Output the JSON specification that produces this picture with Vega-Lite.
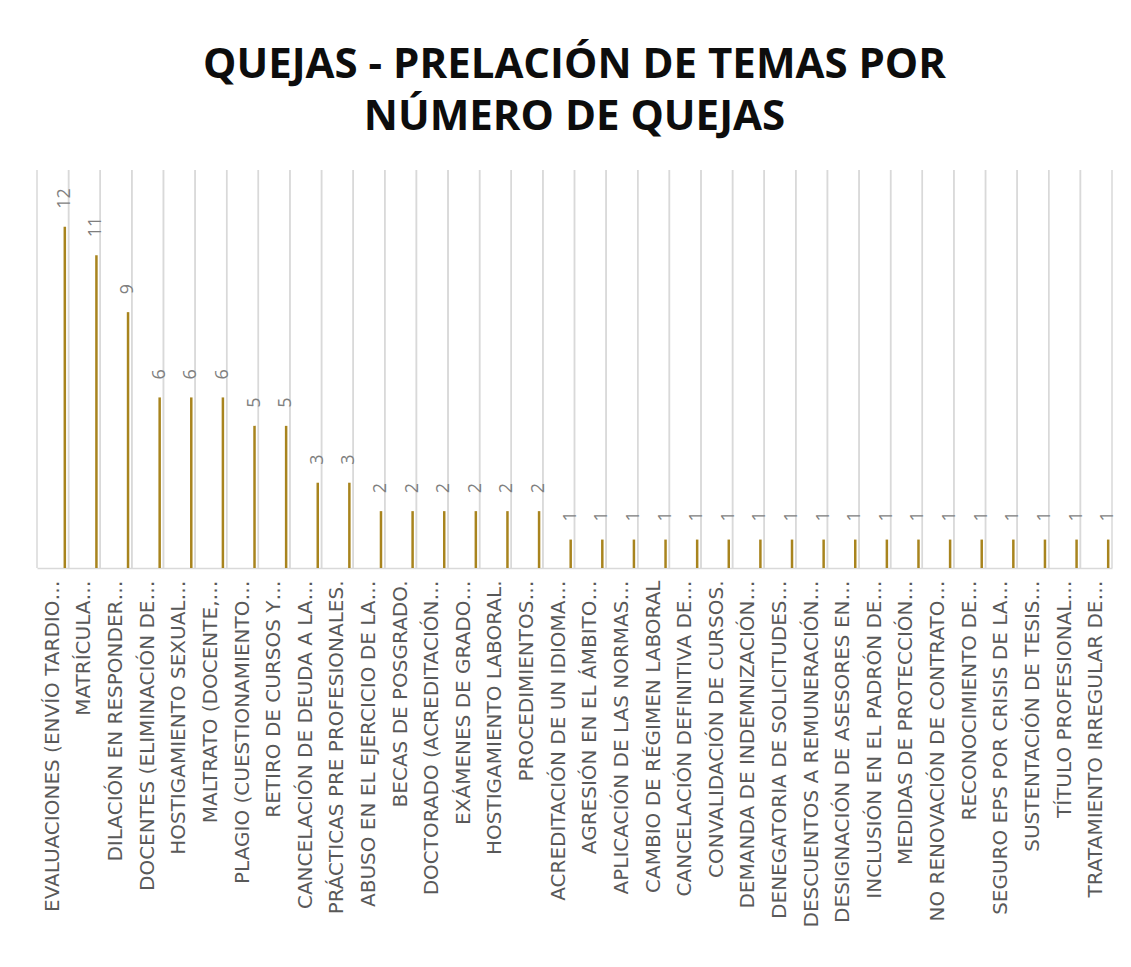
{
  "$schema": "https://vega.github.io/schema/vega-lite/v6.json",
  "autosize": {"type": "none"},
  "width": 1075,
  "height": 398,
  "padding": {"left": 37, "top": 170, "right": 19, "bottom": 399},
  "background": "white",
  "config": {"view": {"stroke": null}},
  "title": {
    "text": ["QUEJAS - PRELACIÓN DE TEMAS POR", "NÚMERO DE QUEJAS"],
    "font": "Open Sans",
    "fontSize": 42,
    "fontWeight": "bold",
    "color": "#0D0D0D",
    "anchor": "middle",
    "frame": "group",
    "lineHeight": 52,
    "offset": 30
  },
  "data": {
    "values": [
      {"tema": "EVALUACIONES (ENVÍO TARDIO…", "quejas": 12},
      {"tema": "MATRÍCULA…", "quejas": 11},
      {"tema": "DILACIÓN EN RESPONDER…", "quejas": 9},
      {"tema": "DOCENTES (ELIMINACIÓN DE…", "quejas": 6},
      {"tema": "HOSTIGAMIENTO SEXUAL…", "quejas": 6},
      {"tema": "MALTRATO (DOCENTE,…", "quejas": 6},
      {"tema": "PLAGIO (CUESTIONAMIENTO…", "quejas": 5},
      {"tema": "RETIRO DE CURSOS Y…", "quejas": 5},
      {"tema": "CANCELACIÓN DE DEUDA A LA…", "quejas": 3},
      {"tema": "PRÁCTICAS PRE PROFESIONALES.", "quejas": 3},
      {"tema": "ABUSO EN EL EJERCICIO DE LA…", "quejas": 2},
      {"tema": "BECAS DE POSGRADO.", "quejas": 2},
      {"tema": "DOCTORADO (ACREDITACIÓN…", "quejas": 2},
      {"tema": "EXÁMENES DE GRADO…", "quejas": 2},
      {"tema": "HOSTIGAMIENTO LABORAL.", "quejas": 2},
      {"tema": "PROCEDIMIENTOS…", "quejas": 2},
      {"tema": "ACREDITACIÓN DE UN IDIOMA…", "quejas": 1},
      {"tema": "AGRESIÓN EN EL ÁMBITO…", "quejas": 1},
      {"tema": "APLICACIÓN DE LAS NORMAS…", "quejas": 1},
      {"tema": "CAMBIO DE RÉGIMEN LABORAL", "quejas": 1},
      {"tema": "CANCELACIÓN DEFINITIVA DE…", "quejas": 1},
      {"tema": "CONVALIDACIÓN DE CURSOS.", "quejas": 1},
      {"tema": "DEMANDA DE INDEMNIZACIÓN…", "quejas": 1},
      {"tema": "DENEGATORIA DE SOLICITUDES…", "quejas": 1},
      {"tema": "DESCUENTOS A REMUNERACIÓN…", "quejas": 1},
      {"tema": "DESIGNACIÓN DE ASESORES EN…", "quejas": 1},
      {"tema": "INCLUSIÓN EN EL PADRÓN DE…", "quejas": 1},
      {"tema": "MEDIDAS DE PROTECCIÓN…", "quejas": 1},
      {"tema": "NO RENOVACIÓN DE CONTRATO…", "quejas": 1},
      {"tema": "RECONOCIMIENTO DE…", "quejas": 1},
      {"tema": "SEGURO EPS POR CRISIS DE LA…", "quejas": 1},
      {"tema": "SUSTENTACIÓN DE TESIS…", "quejas": 1},
      {"tema": "TÍTULO PROFESIONAL…", "quejas": 1},
      {"tema": "TRATAMIENTO IRREGULAR DE…", "quejas": 1}
    ]
  },
  "encoding": {
    "x": {
      "field": "tema",
      "type": "nominal",
      "sort": null,
      "scale": {"paddingInner": 0, "paddingOuter": 0},
      "axis": {
        "title": null,
        "labelAngle": 270,
        "labelAlign": "right",
        "labelBaseline": "middle",
        "labelPadding": 12,
        "labelFont": "DejaVu Sans",
        "labelFontSize": 20,
        "labelColor": "#595959",
        "labelLimit": 0,
        "ticks": false,
        "grid": false,
        "domainColor": "#D9D9D9",
        "domainWidth": 1.5
      }
    }
  },
  "layer": [
    {
      "mark": {"type": "rule", "color": "#D9D9D9", "strokeWidth": 1.5},
      "encoding": {"x": {"field": "tema", "type": "nominal", "sort": null, "bandPosition": 0}}
    },
    {
      "mark": {"type": "rule", "color": "#D9D9D9", "strokeWidth": 1.5},
      "encoding": {"x": {"field": "tema", "type": "nominal", "sort": null, "bandPosition": 1}}
    },
    {
      "mark": {"type": "bar", "width": 2.5, "xOffset": 12, "color": "#A8841E"},
      "encoding": {
        "y": {"field": "quejas", "type": "quantitative", "scale": {"domain": [0, 14], "nice": false}, "axis": null}
      }
    },
    {
      "mark": {"type": "text", "angle": 270, "align": "left", "baseline": "middle", "dx": 18, "xOffset": 12, "font": "Open Sans", "fontSize": 18, "color": "#7F7F7F"},
      "encoding": {
        "y": {"field": "quejas", "type": "quantitative"},
        "text": {"field": "quejas", "type": "quantitative"}
      }
    }
  ]
}
